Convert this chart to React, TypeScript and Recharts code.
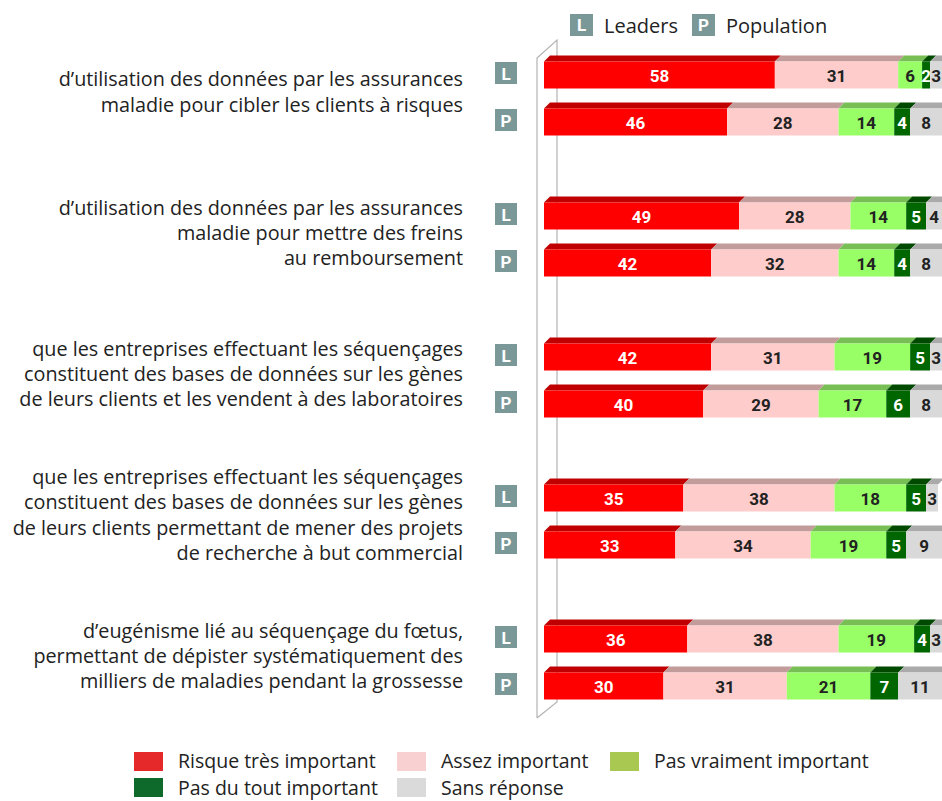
import React from "react";
import { BarChart, Bar, XAxis, YAxis, LabelList } from "recharts";

const questions: string[][] = [
  ["d’utilisation des données par les assurances", "maladie pour cibler les clients à risques"],
  ["d’utilisation des données par les assurances", "maladie pour mettre des freins", "au remboursement"],
  [
    "que les entreprises effectuant les séquençages",
    "constituent des bases de données sur les gènes",
    "de leurs clients et les vendent à des laboratoires",
  ],
  [
    "que les entreprises effectuant les séquençages",
    "constituent des bases de données sur les gènes",
    "de leurs clients permettant de mener des projets",
    "de recherche à but commercial",
  ],
  [
    "d’eugénisme lié au séquençage du fœtus,",
    "permettant de dépister systématiquement des",
    "milliers de maladies pendant la grossesse",
  ],
];

// Leaders (L) values per question
const leadersTres = [58, 49, 42, 35, 36];
const leadersAssez = [31, 28, 31, 38, 38];
const leadersPasVraiment = [6, 14, 19, 18, 19];
const leadersPasDuTout = [2, 5, 5, 5, 4];
const leadersSans = [3, 4, 3, 3, 3];

// Population (P) values per question
const popTres = [46, 42, 40, 33, 30];
const popAssez = [28, 32, 29, 34, 31];
const popPasVraiment = [14, 14, 17, 19, 21];
const popPasDuTout = [4, 4, 6, 5, 7];
const popSans = [8, 8, 8, 9, 11];

const series = [
  { key: "tres", name: "Risque très important", front: "#ff0000", top: "#c00000", legend: "#e5292b", text: "#ffffff" },
  { key: "assez", name: "Assez important", front: "#ffcccc", top: "#c29b9b", legend: "#f8d0d1", text: "#222222" },
  { key: "pasVraiment", name: "Pas vraiment important", front: "#99ff66", top: "#77bf55", legend: "#a8c852", text: "#222222" },
  { key: "pasDuTout", name: "Pas du tout important", front: "#006600", top: "#004a00", legend: "#0e6a2b", text: "#ffffff" },
  { key: "sans", name: "Sans réponse", front: "#d9d9d9", top: "#aaaaaa", legend: "#dadada", text: "#222222" },
];

type Row = { id: string; group: number; kind: string; [k: string]: any };

const rows: Row[] = [];
questions.forEach((_, g) => {
  rows.push({
    id: `L${g}`, group: g, kind: "L",
    tres: leadersTres[g], assez: leadersAssez[g], pasVraiment: leadersPasVraiment[g],
    pasDuTout: leadersPasDuTout[g], sans: leadersSans[g],
  });
  rows.push({
    id: `P${g}`, group: g, kind: "P",
    tres: popTres[g], assez: popAssez[g], pasVraiment: popPasVraiment[g],
    pasDuTout: popPasDuTout[g], sans: popSans[g],
  });
  if (g < questions.length - 1) {
    rows.push({ id: `S${g}`, group: g, kind: "S", tres: null, assez: null, pasVraiment: null, pasDuTout: null, sans: null });
  }
});

const W = 942;
const H = 801;
const PLOT_LEFT = 544;
const BAND = 47;
const TOP = 51.5;
const FACE_H = 27;
const DX = 6;
const DY = 6;
const BADGE = "#7b9898";
const FONT = "'Open Sans', sans-serif";
const LABEL_FONT = "Roboto, sans-serif";

const make3D = (front: string, top: string) => (props: any) => {
  const { x, y, width, height } = props;
  if (!width || width <= 0) return <g />;
  const fy = y + height / 2 - FACE_H / 2;
  return (
    <g>
      <polygon
        points={`${x},${fy} ${x + width},${fy} ${x + width + DX},${fy - DY} ${x + DX},${fy - DY}`}
        fill={top}
      />
      <rect x={x} y={fy} width={width} height={FACE_H} fill={front} />
    </g>
  );
};

const makeLabel = (color: string) => (props: any) => {
  const { x, y, width, height, value } = props;
  if (value === null || value === undefined) return null;
  return (
    <text
      x={x + width / 2}
      y={y + height / 2 + 1}
      textAnchor="middle"
      dominantBaseline="central"
      fill={color}
      fontFamily={LABEL_FONT}
      fontWeight={700}
      fontSize={17}
    >
      {value}
    </text>
  );
};

const Badge = ({ x, y, letter }: { x: number; y: number; letter: string }) => (
  <g>
    <rect x={x} y={y - 11} width={22} height={22} fill={BADGE} />
    <text
      x={x + 11}
      y={y + 1}
      textAnchor="middle"
      dominantBaseline="central"
      fill="#fff"
      fontFamily={LABEL_FONT}
      fontWeight={700}
      fontSize={17}
    >
      {letter}
    </text>
  </g>
);

const RowTick = (props: any) => {
  const { y, payload } = props;
  const row = rows.find((r) => r.id === payload.value);
  if (!row || row.kind === "S") return <g />;
  const lines = questions[row.group];
  const lineH = 25.2;
  const center = y + BAND / 2 - 7;
  return (
    <g>
      <Badge x={PLOT_LEFT - 49} y={y - 2} letter={row.kind} />
      {row.kind === "L" &&
        lines.map((ln, i) => (
          <text
            key={i}
            x={463}
            y={center + (i - (lines.length - 1) / 2) * lineH}
            textAnchor="end"
            dominantBaseline="central"
            fill="#222"
            fontFamily={FONT}
            fontWeight={500}
            fontSize={19.8}
          >
            {ln}
          </text>
        ))}
    </g>
  );
};

const badgeStyle: React.CSSProperties = {
  width: 23,
  height: 22,
  background: BADGE,
  color: "#fff",
  fontFamily: LABEL_FONT,
  fontWeight: 700,
  fontSize: 17,
  display: "inline-flex",
  alignItems: "center",
  justifyContent: "center",
};

export default function App() {
  return (
    <div style={{ position: "absolute", left: 0, top: 0, width: W, height: H, overflow: "hidden", background: "#fff" }}>
      {/* 3D wall lines behind the bars */}
      <svg width={W} height={H} style={{ position: "absolute", left: 0, top: 0 }}>
        <polyline points="537,718 537,58 557,40 557,702 537,718" fill="none" stroke="#b3b3b3" strokeWidth={1.2} />
      </svg>
      <div style={{ position: "absolute", left: 0, top: 0 }}>
        <BarChart
          width={W}
          height={H}
          data={rows}
          layout="vertical"
          margin={{ top: TOP, right: 0, bottom: H - TOP - BAND * rows.length, left: 0 }}
          barSize={FACE_H + DY}
        >
          <XAxis type="number" domain={[0, 100]} hide />
          <YAxis
            type="category"
            dataKey="id"
            width={PLOT_LEFT}
            axisLine={false}
            tickLine={false}
            interval={0}
            tick={<RowTick />}
          />
          {series.map((s) => (
            <Bar
              key={s.key}
              dataKey={s.key}
              name={s.name}
              stackId="a"
              isAnimationActive={false}
              shape={make3D(s.front, s.top)}
            >
              <LabelList dataKey={s.key} content={makeLabel(s.text)} />
            </Bar>
          ))}
        </BarChart>
      </div>
      {/* top legend */}
      <div style={{ position: "absolute", left: 570, top: 14, height: 22, display: "flex", alignItems: "center", fontFamily: FONT, fontWeight: 500, fontSize: 20, color: "#222" }}>
        <span style={badgeStyle}>L</span>
        <span style={{ marginLeft: 11 }}>Leaders</span>
        <span style={{ ...badgeStyle, marginLeft: 14 }}>P</span>
        <span style={{ marginLeft: 11 }}>Population</span>
      </div>
      {/* bottom legend */}
      {series.map((s, i) => {
        const col = i < 3 ? i : i - 3;
        const rowIdx = i < 3 ? 0 : 1;
        const lefts = [134, 397, 610];
        return (
          <div
            key={s.key}
            style={{
              position: "absolute",
              left: lefts[col],
              top: 751 + rowIdx * 26.8,
              height: 20,
              display: "flex",
              alignItems: "center",
              fontFamily: FONT,
              fontWeight: 500,
              fontSize: 19.5,
              color: "#222",
              whiteSpace: "nowrap",
              lineHeight: "20px",
            }}
          >
            <span style={{ width: 29, height: 19, background: s.legend, display: "inline-block" }} />
            <span style={{ marginLeft: 15 }}>{s.name}</span>
          </div>
        );
      })}
    </div>
  );
}
